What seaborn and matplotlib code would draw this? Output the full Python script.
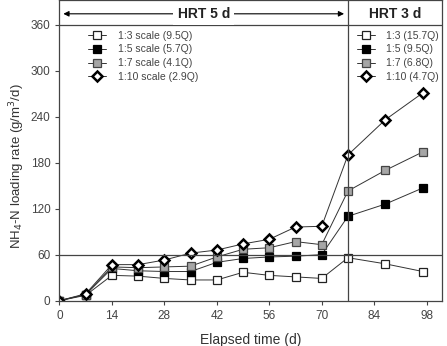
import numpy as np
import pandas as pd
import seaborn as sns
import matplotlib.pyplot as plt

days = [0, 7, 14, 21, 28, 35, 42, 49, 56, 63, 70, 77, 87, 97]
scale_3 = [0, 7, 33, 32, 29, 27, 27, 37, 33, 31, 29, 56, 48, 38]
scale_5 = [0, 8, 42, 39, 38, 38, 50, 55, 57, 58, 60, 110, 126, 147]
scale_7 = [0, 8, 44, 43, 44, 45, 57, 67, 69, 77, 73, 143, 170, 194]
scale_10 = [0, 9, 47, 47, 53, 62, 66, 74, 80, 96, 97, 190, 236, 271]

labels_5d = ["1:3 scale (9.5Q)", "1:5 scale (5.7Q)", "1:7 scale (4.1Q)", "1:10 scale (2.9Q)"]
labels_3d = ["1:3 (15.7Q)", "1:5 (9.5Q)", "1:7 (6.8Q)", "1:10 (4.7Q)"]

sns.set_style("ticks")
plt.rcParams['font.family'] = ['Liberation Sans', 'DejaVu Sans']

series = [scale_3, scale_5, scale_7, scale_10]
styles = [dict(marker='s', markerfacecolor='white', markeredgecolor='#222222', markersize=5.5, markeredgewidth=0.9),
          dict(marker='s', markerfacecolor='black', markeredgecolor='black', markersize=5.5, markeredgewidth=0.9),
          dict(marker='s', markerfacecolor='#a6a6a6', markeredgecolor='#444444', markersize=5.5, markeredgewidth=0.9),
          dict(marker='D', markerfacecolor='white', markeredgecolor='black', markersize=5.5, markeredgewidth=1.8)]

fig = plt.figure(figsize=(4.47, 3.46), dpi=100)
ax = fig.add_axes([0.133, 0.131, 0.855, 0.869])

handles = []
for vals, lab, st in zip(series, labels_5d, styles):
    df = pd.DataFrame({"day": days, "rate": vals})
    sns.lineplot(data=df, x="day", y="rate", ax=ax, color='#333333', linewidth=0.7,
                 label=lab, **st)
    handles.append(ax.get_lines()[-1])

ax.set_xlim(0, 102)
ax.set_ylim(0, 392)
ax.set_xticks(np.arange(0, 99, 14))
ax.set_yticks(np.arange(0, 361, 60))
ax.tick_params(labelsize=8.5, colors='#444444', length=3, width=0.8)
for sp in ax.spines.values():
    sp.set_visible(True)
    sp.set_color('#444444')
    sp.set_linewidth(0.9)

ax.axhline(360, color='#444444', linewidth=0.9)
ax.axhline(60, color='#444444', linewidth=0.9)
ax.axvline(77, color='#444444', linewidth=0.9)

ax.annotate("", xy=(0.3, 374), xytext=(76.7, 374),
            arrowprops=dict(arrowstyle='<|-|>', color='black', linewidth=0.8, mutation_scale=8))
ax.text(38.5, 374, "HRT 5 d", ha='center', va='center', fontsize=10, fontweight='bold',
        color='#222222', bbox=dict(facecolor='white', edgecolor='none', pad=3))
ax.text(89.5, 374, "HRT 3 d", ha='center', va='center', fontsize=10, fontweight='bold', color='#222222')

ax.set_xlabel("Elapsed time (d)", fontsize=10, color='#333333', labelpad=8)
ax.set_ylabel("NH$_4$-N loading rate (g/m$^3$/d)", fontsize=9.5, color='#333333')
ax.yaxis.set_label_coords(-0.086, 0.447)

leg_kw = dict(loc='upper left', frameon=False, fontsize=7.5, handlelength=1.75, handletextpad=1.1,
              labelspacing=0.36, borderpad=0, borderaxespad=0)
leg1 = ax.legend(handles, labels_5d, bbox_to_anchor=(0.075, 0.898), **leg_kw)
for t in leg1.get_texts():
    t.set_color('#444444')
ax.add_artist(leg1)
leg2 = ax.legend(handles, labels_3d, bbox_to_anchor=(0.778, 0.898), **leg_kw)
for t in leg2.get_texts():
    t.set_color('#444444')

fig.savefig("out.png", dpi=100)
